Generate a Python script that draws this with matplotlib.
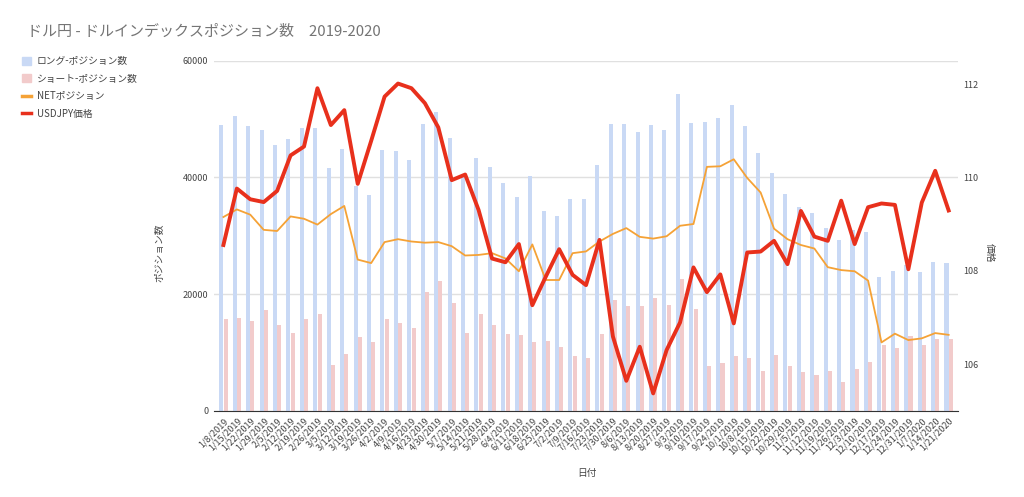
import matplotlib.pyplot as plt
from matplotlib.patches import Patch
from matplotlib.lines import Line2D
import numpy as np

plt.rcParams['font.family'] = ['Noto Sans CJK JP', 'DejaVu Sans']

dates = ['1/8/2019', '1/15/2019', '1/22/2019', '1/29/2019', '2/5/2019', '2/12/2019',
         '2/19/2019', '2/26/2019', '3/5/2019', '3/12/2019', '3/19/2019', '3/26/2019',
         '4/2/2019', '4/9/2019', '4/16/2019', '4/23/2019', '4/30/2019', '5/7/2019',
         '5/14/2019', '5/21/2019', '5/28/2019', '6/4/2019', '6/11/2019', '6/18/2019',
         '6/25/2019', '7/2/2019', '7/9/2019', '7/16/2019', '7/23/2019', '7/30/2019',
         '8/6/2019', '8/13/2019', '8/20/2019', '8/27/2019', '9/3/2019', '9/10/2019',
         '9/17/2019', '9/24/2019', '10/1/2019', '10/8/2019', '10/15/2019', '10/22/2019',
         '10/29/2019', '11/5/2019', '11/12/2019', '11/19/2019', '11/26/2019', '12/3/2019',
         '12/10/2019', '12/17/2019', '12/24/2019', '12/31/2019', '1/7/2020', '1/14/2020',
         '1/21/2020']

long_pos = [49000, 50500, 48800, 48200, 45500, 46600, 48400, 48500, 41600, 44900,
            38600, 36900, 44700, 44500, 43000, 49100, 51200, 46700, 40000, 43300,
            41800, 39100, 36700, 40200, 34200, 33400, 36300, 36300, 42100, 49200,
            49200, 47800, 48900, 48100, 54300, 49300, 49500, 50200, 52400, 48800,
            44100, 40700, 37100, 34900, 33900, 31400, 29200, 31000, 30600, 22900,
            24000, 24900, 23700, 25500, 25300]

short_pos = [15800, 15900, 15300, 17200, 14700, 13300, 15700, 16600, 7800, 9800,
             12600, 11700, 15800, 15000, 14100, 20300, 22200, 18500, 13400, 16600,
             14700, 13100, 12900, 11700, 11900, 11000, 9300, 9000, 13100, 18900,
             17900, 18000, 19400, 18100, 22600, 17400, 7700, 8200, 9400, 9000,
             6800, 9500, 7600, 6600, 6100, 6800, 5000, 7200, 8400, 11300,
             10700, 12800, 11300, 12300, 12300]

net_pos = [33200, 34500, 33600, 31000, 30800, 33300, 32900, 31900, 33700, 35100,
           25900, 25300, 28900, 29400, 29000, 28800, 28900, 28200, 26600, 26700,
           27000, 26100, 23900, 28500, 22400, 22400, 27000, 27300, 29000, 30300,
           31300, 29800, 29500, 29900, 31700, 32000, 41800, 41900, 43100, 39900,
           37400, 31200, 29400, 28400, 27800, 24600, 24100, 23900, 22300, 11700,
           13200, 12100, 12400, 13300, 13000]

usdjpy = [108.55, 109.76, 109.53, 109.47, 109.71, 110.47, 110.66, 111.91, 111.12, 111.44,
          109.86, 110.78, 111.73, 112.01, 111.91, 111.59, 111.07, 109.94, 110.06, 109.30,
          108.26, 108.18, 108.57, 107.26, 107.87, 108.46, 107.91, 107.69, 108.66, 106.59,
          105.64, 106.37, 105.37, 106.30, 106.89, 108.07, 107.54, 107.92, 106.87, 108.39,
          108.41, 108.64, 108.14, 109.28, 108.73, 108.64, 109.50, 108.57, 109.36, 109.44,
          109.41, 108.03, 109.46, 110.14, 109.29]

c_long = '#c9d9f5'
c_short = '#f2cbcb'
c_net = '#f5a236'
c_usd = '#e8301c'
c_text = '#444444'

fig = plt.figure(figsize=(10.24, 4.97), dpi=100)
ax = fig.add_axes([0.209, 0.1737, 0.7266, 0.7042])
x = np.arange(len(dates))

ax.bar(x - 0.16, long_pos, width=0.3, color=c_long, zorder=2)
ax.bar(x + 0.16, short_pos, width=0.3, color=c_short, zorder=2)
ax.plot(x, net_pos, color=c_net, lw=1.3, zorder=3)

ax.set_xlim(-0.7, len(dates) - 0.3)
ax.set_ylim(0, 60000)
ax.set_yticks([0, 20000, 40000, 60000])
ax.grid(axis='y', color='#e0e0e0', lw=1)
ax.set_axisbelow(True)
ax.set_xticks(x)
ax.set_xticklabels(dates, rotation=45, ha='right', rotation_mode='anchor',
                   fontsize=6.5, color=c_text)
ax.tick_params(axis='both', length=0, labelsize=6.5, labelcolor=c_text)
ax.tick_params(axis='x', pad=4)
ax.tick_params(axis='y', pad=4)
for s in ['top', 'left', 'right']:
    ax.spines[s].set_visible(False)
ax.spines['bottom'].set_color('#333333')

ax.set_ylabel('ポジション数', fontsize=7, color=c_text)
ax.yaxis.set_label_coords(-0.066, 0.45)
ax.set_xlabel('日付', fontsize=7, color=c_text)
ax.xaxis.set_label_coords(0.501, -0.164)

ax2 = ax.twinx()
ax2.plot(x, usdjpy, color=c_usd, lw=2.8, zorder=4)
ax2.set_ylim(105, 112.5)
ax2.set_yticks([106, 108, 110, 112])
ax2.tick_params(axis='y', length=0, labelsize=6.5, labelcolor=c_text, pad=4)
for s in ['top', 'left', 'right', 'bottom']:
    ax2.spines[s].set_visible(False)
ax2.set_ylabel('価格', fontsize=7, color=c_text, rotation=270)
ax2.yaxis.set_label_coords(1.05, 0.45)

fig.text(0.026, 0.936, 'ドル円 - ドルインデックスポジション数　2019-2020',
         fontsize=10.8, color='#757575', va='center')

handles = [Patch(color=c_long), Patch(color=c_short),
           Line2D([], [], color=c_net, lw=2.5), Line2D([], [], color=c_usd, lw=2.5)]
labels = ['ロング-ポジション数', 'ショート-ポジション数', 'NETポジション', 'USDJPY価格']
fig.legend(handles, labels, loc='upper left', bbox_to_anchor=(0.018, 0.895),
           frameon=False, fontsize=7, labelcolor=c_text, handlelength=0.9,
           handleheight=0.9, handletextpad=0.6, labelspacing=0.78, borderaxespad=0)

fig.savefig('out.png', dpi=100)
